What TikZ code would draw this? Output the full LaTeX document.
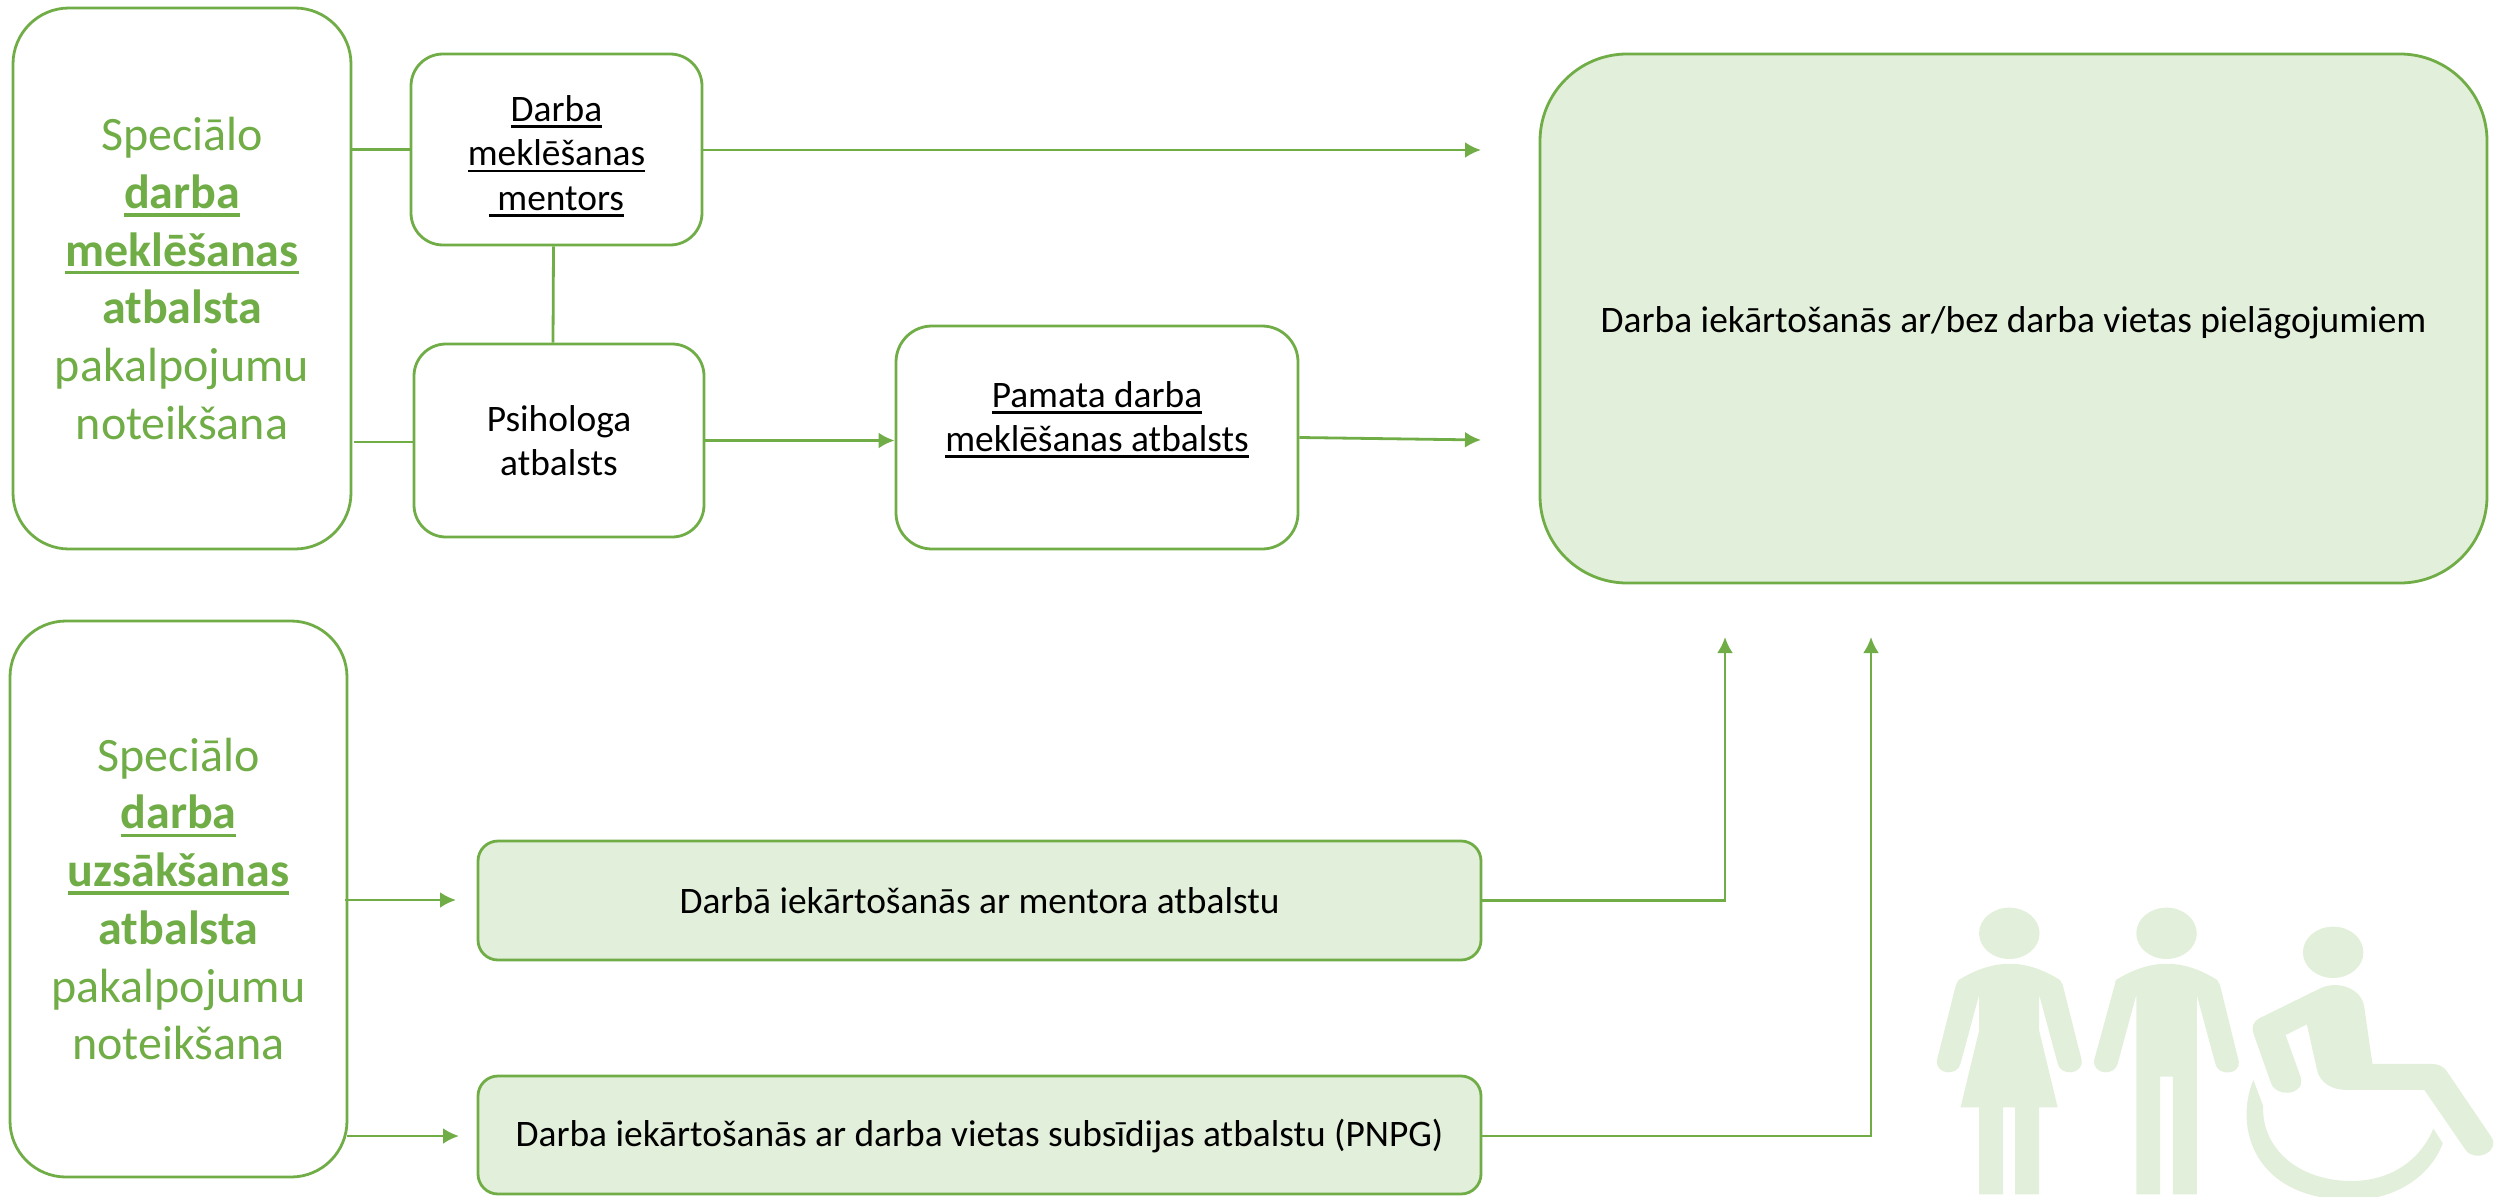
\documentclass[tikz,border=0pt]{standalone}
\usepackage{fontspec}
\setmainfont{Carlito}
\usepackage{tikz}
\usetikzlibrary{arrows.meta}
\definecolor{zals}{HTML}{70AD47}
\definecolor{gaiss}{HTML}{E2EFDA}
\newcommand{\sv}[1] % pasvitrots teksts
{%
	\setbox0=\hbox{#1}\rlap{\rule[-0.17em]{\wd0}{0.07em}}\box0%
}
\tikzset{
	kaste/.style={draw=zals, line width=2.8pt, fill=white, inner sep=0pt, align=center, font=\fontsize{37.4}{44.5}\selectfont},
	liela/.style={kaste, rounded corners=56pt, text=zals, font=\fontsize{48}{57.7}\selectfont},
	zalakaste/.style={kaste, fill=gaiss, rounded corners=20pt},
	linija/.style={draw=zals, line width=2.8pt},
	bulta/.style={linija, -{Latex[length=16pt,width=16pt]}},
	ikona/.style={fill=gaiss, draw=none}
}
\begin{document}
\begin{tikzpicture}[x=1pt,y=-1pt]
	\useasboundingbox (0,0) rectangle (2496,1196);

	\node[liela, minimum width=338pt, minimum height=541pt] (pirmais) at (182,278.5) {Speciālo\\\textbf{\sv{darba}}\\\textbf{\sv{meklēšanas}}\\\textbf{atbalsta}\\pakalpojumu\\noteikšana};
	\node[liela, minimum width=337pt, minimum height=556pt] (otrais) at (178.5,899) {Speciālo\\\textbf{\sv{darba}}\\\textbf{\sv{uzsākšanas}}\\\textbf{atbalsta}\\pakalpojumu\\noteikšana};

	\node[kaste, rounded corners=32pt, minimum width=291pt, minimum height=191pt, text height=128pt] (mentors) at (556.5,149.5) {\sv{Darba}\\\sv{meklēšanas}\\\sv{\ mentors}};
	\node[kaste, rounded corners=32pt, minimum width=290pt, minimum height=193pt] (psihologs) at (559,440.5) {Psihologa\\atbalsts};
	\node[kaste, rounded corners=36pt, minimum width=402pt, minimum height=223pt, text depth=42pt] (pamata) at (1097,437.5) {\sv{Pamata darba}\\\sv{meklēšanas atbalsts}};
	\node[kaste, fill=gaiss, rounded corners=87pt, minimum width=947pt, minimum height=529pt, text height=34pt] (iekartosana) at (2013.5,318.5) {Darba iekārtošanās ar/bez darba vietas pielāgojumiem};
	\node[zalakaste, minimum width=1003pt, minimum height=119pt] (ar mentoru) at (979.5,900.5) {Darbā iekārtošanās ar mentora atbalstu};
	\node[zalakaste, minimum width=1003pt, minimum height=118pt, text height=30pt] (subsidija) at (979.5,1135) {Darba iekārtošanās ar darba vietas subsīdijas atbalstu (PNPG)};

	%brivie gali
	\coordinate (augsa) at (1481,150);
	\coordinate (vidus) at (1481,440);
	\coordinate (kreisa) at (1725,637);
	\coordinate (laba) at (1871,637);
	\coordinate (otrais1) at (345,900);
	\coordinate (otrais2) at (347,1136);
	\coordinate (pirmais2) at (354,442);

	\draw[linija] (mentors.west -| pirmais.east) -- (mentors.west);
	\draw[linija] (pirmais2) -- (psihologs.west |- pirmais2);
	\draw[linija] ([xshift=-3pt]mentors.south) -- ([xshift=-6pt]psihologs.north);
	\draw[bulta] (mentors.east |- augsa) -- (augsa);
	\draw[bulta] (psihologs.east) -- (pamata.west |- psihologs.east);
	\draw[bulta] (pamata.east) -- (vidus);
	\draw[bulta] (otrais1) -- (456,900);
	\draw[bulta] (otrais2) -- (459,1136);
	\draw[bulta] (ar mentoru.east) -- (kreisa |- ar mentoru.east) -- (kreisa);
	\draw[bulta] (subsidija.east |- otrais2) -- (laba |- otrais2) -- (laba);

	%cilveki
	\begin{scope}[shift={(1880,860)}, x=0.393pt, y=-0.3333pt]
		\fill[ikona] (329,220) ellipse [x radius=77, y radius=77];
		\fill[ikona] (200,360) .. controls (290,295) and (370,295) .. (458,360) -- (465,375) -- (513,600) .. controls (518,645) and (458,650) .. (452,610) -- (405,405) -- (405,512) -- (452,742) -- (405,742) -- (405,1003) -- (344,1003) -- (344,742) -- (313,742) -- (313,1003) -- (252,1003) -- (252,742) -- (205,742) -- (252,512) -- (252,405) -- (205,610) .. controls (198,650) and (140,645) .. (145,600) -- (193,375) -- cycle;
		\fill[ikona] (729,220) ellipse [x radius=77, y radius=77];
		\fill[ikona] (600,360) .. controls (690,295) and (770,295) .. (858,360) -- (865,375) -- (913,605) .. controls (918,645) and (858,650) .. (853,610) -- (806,405) -- (806,1003) -- (745,1003) -- (745,650) -- (713,650) -- (713,1003) -- (652,1003) -- (652,405) -- (605,610) .. controls (598,650) and (540,645) .. (545,600) -- (597,375) -- cycle;
		\fill[ikona] (1153,277) ellipse [x radius=77, y radius=77];
		\fill[ikona] (1120,385) -- (965,475) .. controls (950,485) and (945,500) .. (950,520) -- (995,670) .. controls (1010,715) and (1085,705) .. (1070,650) -- (1032,525) -- (1086,493) -- (1112,630) .. controls (1120,670) and (1150,690) .. (1190,690) -- (1385,690) -- (1490,870) .. controls (1515,910) and (1580,875) .. (1555,830) -- (1440,630) .. controls (1430,618) and (1420,612) .. (1405,612) -- (1253,612) -- (1232,440) .. controls (1225,385) and (1165,360) .. (1120,385) -- cycle;
		\fill[ikona] (950,660) .. controls (900,800) and (950,1020) .. (1200,1020) .. controls (1310,1020) and (1400,950) .. (1432,850) -- (1408,806) .. controls (1375,900) and (1300,963) .. (1200,963) .. controls (1060,963) and (970,860) .. (975,738) -- cycle;
	\end{scope}
\end{tikzpicture}
\end{document}
